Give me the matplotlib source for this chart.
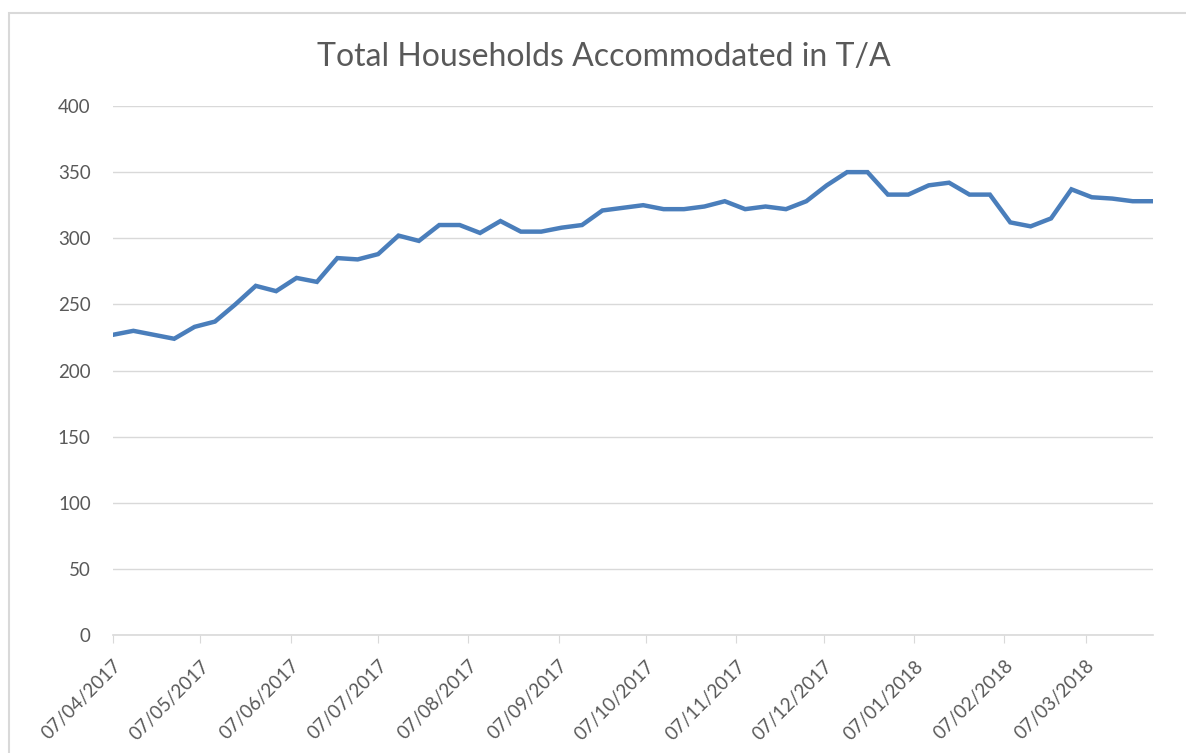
import datetime as dt

import matplotlib
matplotlib.use("Agg")
import matplotlib.pyplot as plt
import matplotlib.dates as mdates
from matplotlib.patches import Rectangle

# Data: weekly counts
start = dt.date(2017, 4, 7)
households = [
    227, 230, 227, 224, 233, 237, 250, 264, 260, 270,
    267, 285, 284, 288, 302, 298, 310, 310, 304, 313,
    305, 305, 308, 310, 321, 323, 325, 322, 322, 324,
    328, 322, 324, 322, 328, 340, 350, 350, 333, 333,
    340, 342, 333, 333, 312, 309, 315, 337, 331, 330,
    328, 328,
]
weeks = [start + dt.timedelta(weeks=i) for i in range(len(households))]
tick_dates = [dt.date(2017 + (m > 12), (m - 1) % 12 + 1, 7) for m in range(4, 16)]
y_ticks = [0, 50, 100, 150, 200, 250, 300, 350, 400]

plt.rcParams["font.family"] = ["Lato", "DejaVu Sans"]
grey = "#595959"

fig = plt.figure(figsize=(11.86, 7.53), dpi=100)
ax = fig.add_axes([113 / 1186, 1 - 635 / 753, (1153 - 113) / 1186, (635 - 106) / 753])

ax.plot(weeks, households, color="#4A7EBB", lw=3.2, solid_joinstyle="miter")

ax.set_xlim(weeks[0], weeks[-1])
ax.set_ylim(0, 400)
ax.set_yticks(y_ticks)
ax.set_xticks(tick_dates)
ax.xaxis.set_major_formatter(mdates.DateFormatter("%d/%m/%Y"))

ax.grid(axis="y", color="#D9D9D9", lw=1)
ax.set_axisbelow(True)
for side in ["top", "right", "left"]:
    ax.spines[side].set_visible(False)
ax.spines["bottom"].set_color("#D9D9D9")
ax.spines["bottom"].set_linewidth(1.2)

ax.tick_params(axis="y", length=0, pad=16, labelsize=13.5, labelcolor=grey)
ax.tick_params(axis="x", length=6, color="#D9D9D9", pad=10, labelsize=13.5, labelcolor=grey)
plt.setp(ax.get_xticklabels(), rotation=45, ha="right", rotation_mode="anchor")

fig.text(604 / 1186, 1 - 57 / 753, "Total Households Accommodated in T/A",
         ha="center", va="center", fontsize=23, color=grey)

# chart area border
fig.patches.append(Rectangle((9 / 1186, -0.1), 1.2, 1 - 13 / 753 + 0.1,
                             transform=fig.transFigure, fill=False,
                             edgecolor="#D9D9D9", lw=1.5))

fig.savefig("out.png", dpi=100)
